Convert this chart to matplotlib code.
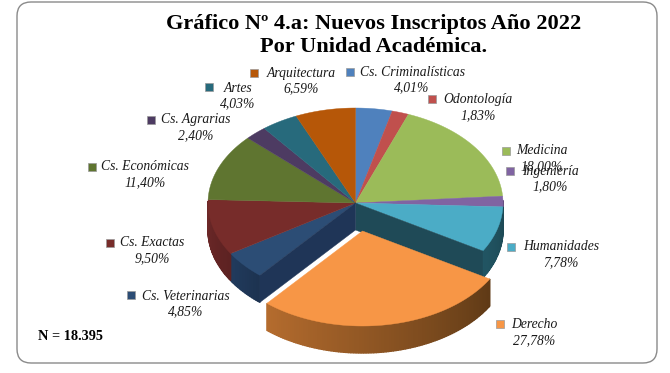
import numpy as np
import matplotlib
matplotlib.use("Agg")
import matplotlib.pyplot as plt
from matplotlib.patches import Polygon, FancyBboxPatch, Rectangle
from matplotlib.colors import to_rgb

# ---- data (clockwise from 12 o'clock)
categories = ["Cs. Criminalísticas", "Odontología", "Medicina", "Ingeniería", "Humanidades",
              "Derecho", "Cs. Veterinarias", "Cs. Exactas", "Cs. Económicas", "Cs. Agrarias",
              "Artes", "Arquitectura"]
values = [4.01, 1.83, 18.00, 1.80, 7.78, 27.78, 4.85, 9.50, 11.40, 2.40, 4.03, 6.59]
colors = ["#4f81bd", "#c0504d", "#9bbb59", "#8064a2", "#4bacc6", "#f79646",
          "#2c4d75", "#772c2a", "#5f7530", "#4d3b62", "#276a7c", "#b65708"]
sides = ["#3b618e", "#903c3a", "#748c43", "#604b7a", "#1f4f5c", "#8a5424",
         "#1f3757", "#652525", "#475824", "#3a2c4a", "#1d505d", "#884106"]
title_lines = ["Gráfico Nº 4.a: Nuevos Inscriptos Año 2022", "Por Unidad Académica."]
note = "N = 18.395"
exploded = "Derecho"

# ---- layout: label text centre / marker position, in figure pixels
label_pos = {
    "Cs. Criminalísticas": (412, 72, 350, 72, 88),
    "Odontología": (478, 100, 432, 99, 116),
    "Medicina": (542, 151, 506, 151, 167),
    "Ingeniería": (550, 172, 510, 171, 187),
    "Humanidades": (561, 247, 511, 247, 263),
    "Derecho": (534, 325, 500, 324, 341),
    "Cs. Veterinarias": (186, 296, 131, 295, 312),
    "Cs. Exactas": (152, 243, 110, 243, 259),
    "Cs. Económicas": (145, 167, 92, 167, 183),
    "Cs. Agrarias": (196, 120, 151, 120, 136),
    "Artes": (238, 88, 209, 87, 104),
    "Arquitectura": (301, 73, 254, 73, 89),
}
cx, cy, rx, ry, depth = 355.5, 203.0, 147.5, 95.0, 27.0
off_x, off_y = 7.0, 28.0

fig = plt.figure(figsize=(6.7, 3.73), dpi=100)
ax = fig.add_axes([0, 0, 1, 1])
ax.set_xlim(0, 670)
ax.set_ylim(373, 0)
ax.axis("off")

ax.add_patch(FancyBboxPatch((17, 2), 640, 361, boxstyle="round,pad=0,rounding_size=14",
                            fc="white", ec="#8a8a8a", lw=1.0, zorder=0))


def pt(t, dx=0.0, dy=0.0):
    t = np.asarray(t)
    return np.column_stack([cx + dx + rx * np.sin(t), cy + dy - ry * np.cos(t)])


total = sum(values)
edges = np.concatenate([[0], np.cumsum(values)]) / total * 2 * np.pi


def mix(c, k):
    return tuple(min(1, v * k) for v in to_rgb(c))


def slice_parts(i, dx, dy, z):
    a, b = edges[i], edges[i + 1]
    ts = np.linspace(a, b, max(4, int((b - a) * 60)))
    is_exp = categories[i] == exploded
    # rim: overlapping quads so that no seams show
    for t0, t1 in zip(ts[:-1], ts[1:]):
        if np.cos((t0 + t1) / 2) > 0.02:
            continue
        arc = pt([t0, t1], dx, dy)
        quad = np.vstack([arc, arc[::-1] + [0, depth]])
        f = (t0 - a) / (b - a)
        if is_exp:
            col = tuple(np.array(to_rgb("#5f3a16")) * (1 - f) + np.array(to_rgb("#b56c2e")) * f)
        else:
            col = mix(sides[i], 0.92 + 0.16 * f)
        ax.add_patch(Polygon(quad, closed=True, fc=col, ec=col, lw=1.0, zorder=z))
    # top
    poly = np.vstack([[cx + dx, cy + dy], pt(ts, dx, dy)])
    ax.add_patch(Polygon(poly, closed=True, fc=colors[i], ec=colors[i], lw=0.3, zorder=z + 1))


exp_i = categories.index(exploded)
order = [i for i in range(len(values)) if i != exp_i]
for i in order:
    slice_parts(i, 0, 0, 2)

# walls that face the gap left by the exploded slice
for t, col in ((edges[exp_i], "#1f4a57"), (edges[exp_i + 1], "#1f3557")):
    rim = pt([t])[0]
    wall = [(cx, cy), rim, rim + [0, depth], (cx, cy + depth)]
    ax.add_patch(Polygon(wall, closed=True, fc=col, ec=col, lw=0.3, zorder=4))
slice_parts(exp_i, off_x, off_y, 6)

serif = "Liberation Serif"
for j, line in enumerate(title_lines):
    ax.text(374, 24 + 23 * j, line, ha="center", va="center", family=serif,
            weight="bold", size=16.1, color="black", zorder=10)
ax.text(38, 337, note, ha="left", va="center", family=serif, weight="bold", size=10.3, zorder=10)

for name, val, col in zip(categories, values, colors):
    tx, ty, mx, my, vy = label_pos[name]
    ax.text(tx, ty, name, ha="center", va="center", family=serif, style="italic",
            size=9.8, color="#1a1a1a", zorder=10)
    ax.text(tx, vy, f"{val:.2f}%".replace(".", ","), ha="center", va="center", family=serif,
            style="italic", size=9.8, color="#1a1a1a", zorder=10)
    ax.add_patch(Rectangle((mx - 4, my - 4), 8, 8, fc=col, ec="#9a9a9a", lw=0.5, zorder=10))

fig.savefig("out.png", dpi=100, facecolor="white")
